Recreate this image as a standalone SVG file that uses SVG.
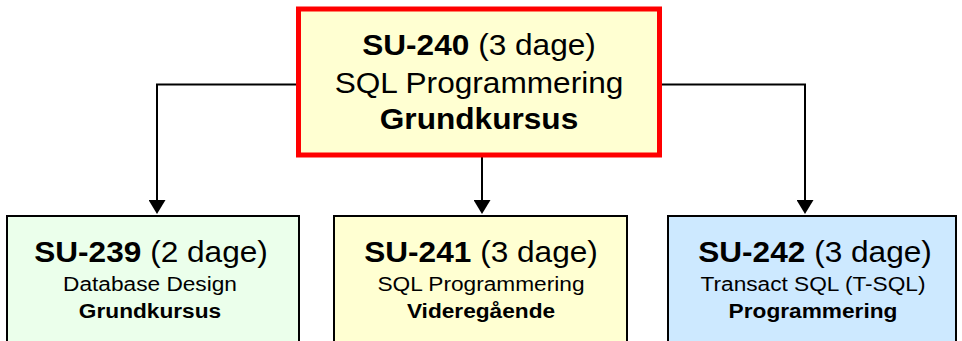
<svg xmlns="http://www.w3.org/2000/svg" width="962" height="341" viewBox="0 0 962 341">
  <style>
    text { font-family: "Liberation Sans", Arial, sans-serif; fill: #000; text-anchor: middle; }
    .b { font-weight: bold; }
    .big { font-size: 29px; }
    .small { font-size: 21px; }
    .conn { fill: none; stroke: #000; stroke-width: 2; }
    .child { stroke: #000; stroke-width: 2; }
  </style>
  <defs>
    <marker id="arrow" viewBox="0 0 14 17" refX="2" refY="8.5" markerWidth="14" markerHeight="17" markerUnits="userSpaceOnUse" orient="auto">
      <path d="M0,0 L14,8.5 L0,17 Z" fill="#000"/>
    </marker>
  </defs>
  <rect width="962" height="341" fill="#fff"/>

  <g id="connectors">
    <path class="conn" d="M298,84.5 H157 V202" marker-end="url(#arrow)"/>
    <path class="conn" d="M482,157 V202" marker-end="url(#arrow)"/>
    <path class="conn" d="M660,84.5 H805 V202" marker-end="url(#arrow)"/>
  </g>

  <g id="su240">
    <rect x="298.5" y="9" width="361" height="146" fill="#FFFFD2" stroke="#FF0000" stroke-width="5"/>
    <g transform="translate(479,0) scale(1.09,1)">
      <text class="big" x="0" y="55.5"><tspan class="b">SU-240</tspan> (3 dage)</text>
      <text class="big" x="0" y="93">SQL Programmering</text>
      <text class="big b" x="0" y="129.5">Grundkursus</text>
    </g>
  </g>

  <g id="su239">
    <rect class="child" x="7" y="216" width="292" height="132" fill="#EBFFEB"/>
    <g transform="translate(151,0) scale(1.09,1)">
      <text class="big" x="0" y="262"><tspan class="b">SU-239</tspan> (2 dage)</text>
    </g>
    <g transform="translate(150,0) scale(1.08,1)">
      <text class="small" x="0" y="291">Database Design</text>
      <text class="small b" x="0" y="318">Grundkursus</text>
    </g>
  </g>

  <g id="su241">
    <rect class="child" x="334" y="216" width="293" height="132" fill="#FFFFD2"/>
    <g transform="translate(481,0) scale(1.09,1)">
      <text class="big" x="0" y="262"><tspan class="b">SU-241</tspan> (3 dage)</text>
    </g>
    <g transform="translate(481,0) scale(1.08,1)">
      <text class="small" x="0" y="291">SQL Programmering</text>
      <text class="small b" x="0" y="318">Videregående</text>
    </g>
  </g>

  <g id="su242">
    <rect class="child" x="668" y="216" width="288" height="132" fill="#CDE9FF"/>
    <g transform="translate(815,0) scale(1.09,1)">
      <text class="big" x="0" y="262"><tspan class="b">SU-242</tspan> (3 dage)</text>
    </g>
    <g transform="translate(813,0) scale(1.08,1)">
      <text class="small" x="0" y="291">Transact SQL (T-SQL)</text>
      <text class="small b" x="0" y="318">Programmering</text>
    </g>
  </g>
</svg>
